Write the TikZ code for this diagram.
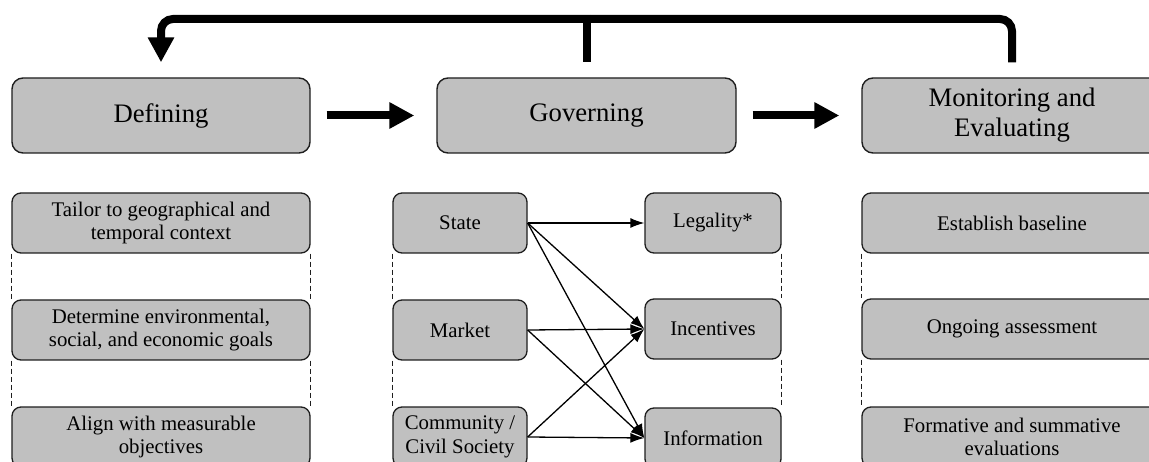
\documentclass[tikz,border=0pt]{standalone}
\usepackage{fontspec}
\setmainfont{Liberation Serif}
\usetikzlibrary{arrows.meta}
\definecolor{boxgray}{RGB}{192,192,192}
\definecolor{edgecol}{RGB}{30,30,30}
\begin{document}
\begin{tikzpicture}[x=1pt,y=-1pt,
  bigbox/.style={draw=edgecol, line width=1.4pt, fill=boxgray, rounded corners=11pt,
    minimum height=75pt, align=center, inner sep=0pt,
    font=\fontsize{26.7}{30}\selectfont},
  smallbox/.style={draw=edgecol, line width=1.3pt, fill=boxgray, rounded corners=9pt,
    minimum height=60pt, align=center, inner sep=0pt,
    font=\fontsize{20.8}{23.5}\selectfont},
  bigarrow/.style={line width=8pt, -{Triangle[length=25pt,width=25pt]}},
  feedback/.style={line width=8pt, rounded corners=12pt},
  thinarrow/.style={line width=1.3pt, -{Latex[length=14pt,width=10pt]}},
  dashline/.style={line width=1.2pt, dash pattern=on 5pt off 3pt, draw=edgecol}
]
\clip (0,0) rectangle (1149,462);
\fill[white] (0,0) rectangle (1149,462);

% top row
\node[bigbox, minimum width=298pt] (def) at (161,115.5) {Defining};
\node[bigbox, minimum width=299pt] (gov) at (586.5,115.5) {Governing};
\node[bigbox, minimum width=300pt] (mon) at (1012,115.5) {Monitoring and\\Evaluating};

% Defining column
\node[smallbox, minimum width=298pt] (d1) at (161,223) {Tailor to geographical and\\temporal context};
\node[smallbox, minimum width=298pt] (d2) at (161,330) {Determine environmental,\\social, and economic goals};
\node[smallbox, minimum width=298pt] (d3) at (161,437) {Align with measurable\\objectives};

% Governing columns
\node[smallbox, minimum width=134pt] (state) at (460,223) {State};
\node[smallbox, minimum width=134pt] (market) at (460,330) {Market};
\node[smallbox, minimum width=134pt] (comm) at (460,437) {Community /\\Civil Society};
\node[smallbox, minimum width=136pt] (legal) at (713,223) {Legality*};
\node[smallbox, minimum width=136pt] (incent) at (713,329) {Incentives};
\node[smallbox, minimum width=136pt] (info) at (713,438) {Information};

% Monitoring column
\node[smallbox, minimum width=300pt] (m1) at (1012,223) {Establish baseline};
\node[smallbox, minimum width=300pt] (m2) at (1012,329) {Ongoing assessment};
\node[smallbox, minimum width=300pt] (m3) at (1012,437) {Formative and summative\\evaluations};

% dashed guides
\draw[dashline] (d1.south west) -- (d2.north west);
\draw[dashline] (d2.south west) -- (d3.north west);
\draw[dashline] (d1.south east) -- (d2.north east);
\draw[dashline] (d2.south east) -- (d3.north east);
\draw[dashline] (state.south west) -- (market.north west);
\draw[dashline] (market.south west) -- (comm.north west);
\draw[dashline] (legal.south east) -- (incent.north east);
\draw[dashline] (incent.south east) -- (info.north east);
\draw[dashline] (m1.south west) -- (m2.north west);
\draw[dashline] (m2.south west) -- (m3.north west);

% big arrows
\draw[bigarrow] ([xshift=16pt]def.east) -- ([xshift=-22pt]gov.west);
\draw[bigarrow] ([xshift=16pt]gov.east) -- ([xshift=-22pt]mon.west);

% feedback loop
\coordinate (top) at (0,19);
\draw[feedback, -{Triangle[length=25pt,width=25pt]}]
  ([yshift=15pt]mon.north) -- (mon.north |- top) -- (def.north |- top) -- ([yshift=15pt]def.north);
\draw[line width=8pt] ([yshift=4pt]gov.north |- top) -- ([yshift=15pt]gov.north);

% governing arrows
\draw[thinarrow] (state.east) -- (legal.west);
\draw[thinarrow] (state.east) -- (incent.west);
\draw[thinarrow] (state.east) -- (info.west);
\draw[thinarrow] (market.east) -- (incent.west);
\draw[thinarrow] (market.east) -- (info.west);
\draw[thinarrow] (comm.east) -- (incent.west);
\draw[thinarrow] (comm.east) -- (info.west);
\end{tikzpicture}
\end{document}
